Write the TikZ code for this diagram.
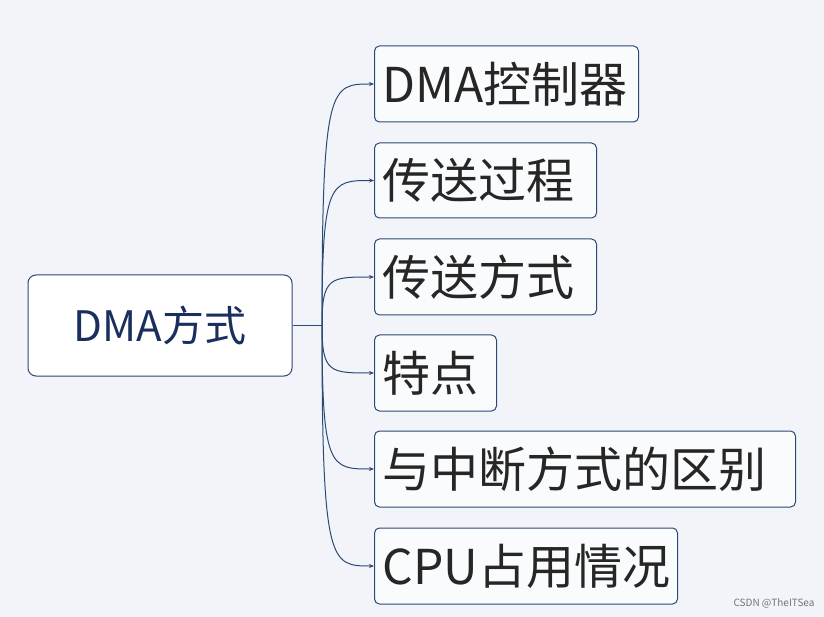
\documentclass[tikz,border=0pt]{standalone}
\usepackage{fontspec}
\setmainfont{Noto Sans CJK SC}
\usetikzlibrary{arrows.meta}
\definecolor{bg}{HTML}{F2F4F9}
\definecolor{edge}{HTML}{2B4A75}
\definecolor{navy}{HTML}{1B2F5E}
\begin{document}
\begin{tikzpicture}[x=1pt,y=-1pt,
  box/.style={draw=edge,line width=1pt,rounded corners=5pt,fill=white!60!bg,anchor=west,inner sep=0pt,font=\fontsize{48}{48}\selectfont,text=black!85},
  conn/.style={draw=edge,line width=1pt,-{Stealth[length=5pt,width=4pt]}}]
\useasboundingbox[fill=bg] (0,0) rectangle (824,617);
\node[draw=edge,line width=1pt,rounded corners=8pt,fill=white,minimum width=264pt,minimum height=101pt,font=\fontsize{42}{42}\selectfont,text=navy] (root) at (160,325.5) {DMA方式};
\node[box,minimum width=264pt,minimum height=76pt,text width=254pt,align=left] (c1) at (374,84) {\hspace{3pt}DMA控制器};
\node[box,minimum width=222pt,minimum height=75pt,text width=212pt,align=left] (c2) at (374,180.5) {\hspace{3pt}传送过程};
\node[box,minimum width=222pt,minimum height=76pt,text width=212pt,align=left] (c3) at (374,277) {\hspace{3pt}传送方式};
\node[box,minimum width=122pt,minimum height=76pt,text width=112pt,align=left] (c4) at (374,373) {\hspace{3pt}特点};
\node[box,minimum width=421pt,minimum height=76pt,text width=411pt,align=left] (c5) at (374,469) {\hspace{3pt}与中断方式的区别};
\node[box,minimum width=303pt,minimum height=76pt,text width=293pt,align=left] (c6) at (374,566) {\hspace{3pt}CPU占用情况};
\coordinate (hub) at (322,325.5);
\draw[edge,line width=1pt] (root.east) -- (hub);
\foreach \c in {c1,c2,c3,c4,c5,c6}{
  \draw[conn] (hub) .. controls (hub |- \c.west) and (330,0 |- \c.west) .. (\c.west);
}
\node[font=\fontsize{10}{10}\selectfont,text=black!55,anchor=east] (wm) at (818,603) {CSDN @TheITSea};
\end{tikzpicture}
\end{document}
